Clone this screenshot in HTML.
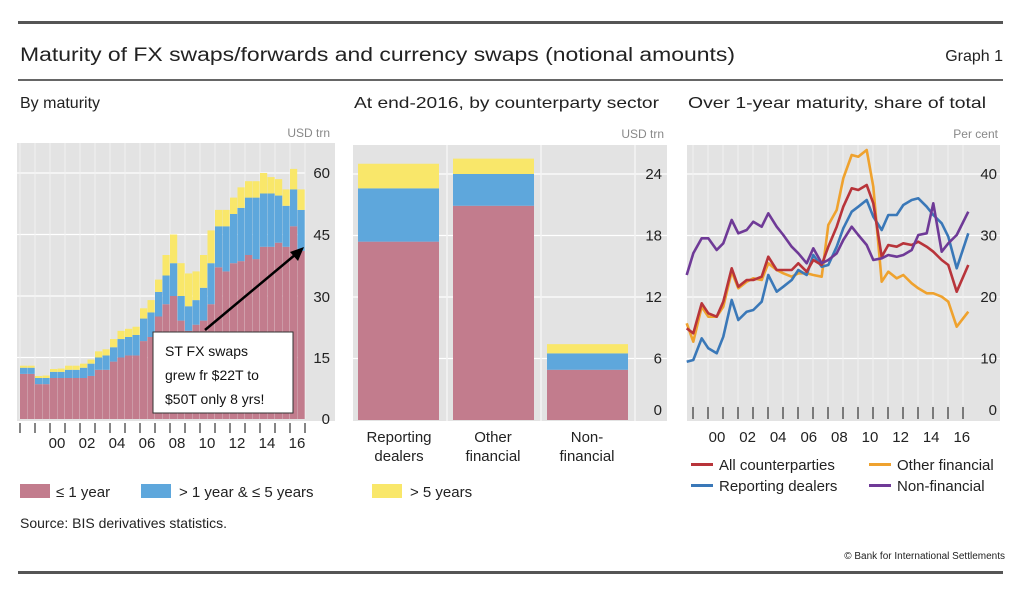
<!DOCTYPE html>
<html><head><meta charset="utf-8">
<style>
body{margin:0;background:#fff;width:1023px;height:602px;overflow:hidden;font-family:"Liberation Sans",sans-serif;}
svg text{font-family:"Liberation Sans",sans-serif;}
</style></head><body>
<svg id="s" width="1023" height="602" viewBox="0 0 1023 602" xmlns="http://www.w3.org/2000/svg">
<rect x="18" y="21" width="985" height="3" fill="#555"/>
<text x="20" y="61" font-size="19" fill="#222" textLength="715" lengthAdjust="spacingAndGlyphs">Maturity of FX swaps/forwards and currency swaps (notional amounts)</text>
<text x="1003" y="61" font-size="16" fill="#222" text-anchor="end">Graph 1</text>
<rect x="18" y="79" width="985" height="2" fill="#666"/>
<text x="20" y="108" font-size="16" fill="#222">By maturity</text>
<text x="354" y="108" font-size="16" fill="#222" textLength="305" lengthAdjust="spacingAndGlyphs">At end-2016, by counterparty sector</text>
<text x="688" y="108" font-size="16" fill="#222" textLength="298" lengthAdjust="spacingAndGlyphs">Over 1-year maturity, share of total</text>
<!-- panel backgrounds -->
<rect x="17" y="143" width="318" height="278" fill="#e3e3e3"/>
<rect x="353" y="145" width="314" height="276" fill="#e3e3e3"/>
<rect x="687" y="145" width="313" height="276" fill="#e3e3e3"/>
<text x="330" y="137" font-size="12" fill="#888" text-anchor="end">USD trn</text>
<text x="664" y="138" font-size="12" fill="#888" text-anchor="end">USD trn</text>
<text x="998" y="138" font-size="12" fill="#888" text-anchor="end">Per cent</text>
<g id="left"></g><g id="mid"></g><g id="right"></g>
<!-- annotation -->
<line x1="205" y1="330" x2="296" y2="254" stroke="#000" stroke-width="2.5"/>
<polygon points="304,247 290,252 298,261" fill="#000"/>
<rect x="153" y="332" width="140" height="81" fill="#fff" stroke="#333" stroke-width="1"/>
<text x="165" y="356" font-size="14" fill="#111">ST FX swaps</text>
<text x="165" y="380" font-size="14" fill="#111">grew fr $22T to</text>
<text x="165" y="404" font-size="14" fill="#111">$50T only 8 yrs!</text>
<!-- middle labels -->
<g font-size="15" fill="#222" text-anchor="middle">
<text x="399" y="442">Reporting</text><text x="399" y="461">dealers</text>
<text x="493" y="442">Other</text><text x="493" y="461">financial</text>
<text x="587" y="442">Non-</text><text x="587" y="461">financial</text>
</g>
<!-- left legend -->
<rect x="20" y="484" width="30" height="14" fill="#c27c8d"/>
<text x="56" y="497" font-size="15" fill="#222">≤ 1 year</text>
<rect x="141" y="484" width="30" height="14" fill="#5ea7dc"/>
<text x="179" y="497" font-size="15" fill="#222">&gt; 1 year &amp; ≤ 5 years</text>
<rect x="372" y="484" width="30" height="14" fill="#f9e76a"/>
<text x="410" y="497" font-size="15" fill="#222">&gt; 5 years</text>
<text x="20" y="528" font-size="14" fill="#222">Source: BIS derivatives statistics.</text>
<text x="1005" y="559" font-size="10" fill="#222" text-anchor="end">© Bank for International Settlements</text>
<rect x="18" y="571" width="985" height="3" fill="#555"/>
<!-- right legend -->
<g font-size="15" fill="#222">
<rect x="691" y="463" width="22" height="3" fill="#b8343a"/><text x="719" y="470">All counterparties</text>
<rect x="869" y="463" width="22" height="3" fill="#efa22e"/><text x="897" y="470">Other financial</text>
<rect x="691" y="484" width="22" height="3" fill="#3a78b8"/><text x="719" y="491">Reporting dealers</text>
<rect x="869" y="484" width="22" height="3" fill="#6f3a97"/><text x="897" y="491">Non-financial</text>
</g>
</svg>
<script>
var NS="http://www.w3.org/2000/svg";
function el(p,t,a,txt){var e=document.createElementNS(NS,t);for(var k in a)e.setAttribute(k,a[k]);if(txt!==undefined)e.textContent=txt;p.appendChild(e);return e;}
var R="#c27c8d",B="#5ea7dc",Y="#f9e76a";
// LEFT
var L=document.getElementById("left");
var y0=419,k=4.1;
[60,45,30,15].forEach(function(v){el(L,"line",{x1:17,x2:305,y1:y0-v*k,y2:y0-v*k,stroke:"#fff","stroke-width":1.2});});
for(var i=0;i<=19;i++){var x=20+i*15;el(L,"line",{x1:x,x2:x,y1:143,y2:419,stroke:"#f2f2f2","stroke-width":1});el(L,"line",{x1:x,x2:x,y1:423,y2:433,stroke:"#333","stroke-width":1.2});}
var d=[[11,1.5,.5],[11,1.5,.5],[8.5,1.5,.5],[8.5,1.5,.6],[10,1.5,.7],[10,1.5,.8],[10,2,1],[10,2,1],[10,2.5,1],[10.5,3,1],[12,3,1.5],[12,3.5,1.5],[14,3.5,2],[15,4.5,2],[15.5,4.5,2],[15.5,5,2],[19,5.5,2.5],[20,6,3],[25,6,3],[28,7,5],[30,8,7],[24,6,8],[21.5,6,8],[23,6,7],[24,8,8],[28,10,8],[37,10,4],[36,11,4],[38,12,4],[38.5,13,5],[40,14,4],[39,15,4],[42,13,5],[42,13,4],[43,11.5,4],[42,10,4],[47,9,5],[41,10,5]];
d.forEach(function(b,i){var x=20+i*7.5,c=y0;[[b[0],R],[b[1],B],[b[2],Y]].forEach(function(s){var h=s[0]*k;el(L,"rect",{x:x,y:c-h,width:7.2,height:h,fill:s[1]});c-=h;});});
[["60",173],["45",235],["30",297],["15",358],["0",419]].forEach(function(t){el(L,"text",{x:330,y:t[1]+5,"font-size":15,fill:"#222","text-anchor":"end"},t[0]);});
["00","02","04","06","08","10","12","14","16"].forEach(function(t,i){el(L,"text",{x:57+i*30,y:448,"font-size":15,fill:"#222","text-anchor":"middle"},t);});
// MID
var M=document.getElementById("mid");
[24,18,12,6].forEach(function(v){var y=420-v*10.25;el(M,"line",{x1:353,x2:667,y1:y,y2:y,stroke:"#fff","stroke-width":1.2});el(M,"text",{x:662,y:y+5,"font-size":15,fill:"#222","text-anchor":"end"},""+v);});
el(M,"text",{x:662,y:415,"font-size":15,fill:"#222","text-anchor":"end"},"0");
[447,541,635].forEach(function(x){el(M,"line",{x1:x,x2:x,y1:145,y2:421,stroke:"#f4f4f4","stroke-width":1.5});});
[[358,17.4,22.6,25],[453,20.9,24,25.5],[547,4.9,6.5,7.4]].forEach(function(b){var p=0;[[b[1],R],[b[2],B],[b[3],Y]].forEach(function(s){el(M,"rect",{x:b[0],y:420-s[0]*10.25,width:81,height:(s[0]-p)*10.25,fill:s[1]});p=s[0];});});
// RIGHT
var G=document.getElementById("right");
[40,30,20,10].forEach(function(v){var y=420-v*6.15;el(G,"line",{x1:687,x2:1000,y1:y,y2:y,stroke:"#fff","stroke-width":1.2});el(G,"text",{x:997,y:y+5,"font-size":15,fill:"#222","text-anchor":"end"},""+v);});
el(G,"text",{x:997,y:415,"font-size":15,fill:"#222","text-anchor":"end"},"0");
for(var i=0;i<19;i++){var x=693+i*15;el(G,"line",{x1:x,x2:x,y1:145,y2:405,stroke:"#f0f0f0","stroke-width":1});el(G,"line",{x1:x,x2:x,y1:407,y2:419,stroke:"#333","stroke-width":1.2});}
["00","02","04","06","08","10","12","14","16"].forEach(function(t,i){el(G,"text",{x:717+i*30.6,y:442,"font-size":15,fill:"#222","text-anchor":"middle"},t);});
var xs=[20,40,65,85,110,130,155,175,200,220,245,265,290,310,335,355,380,400,425,445,470,490,515,535,560,580,605,625,650,670,695,715,740,760,785,805,830,865];
var S={
"#efa22e":[610,665,560,590,590,560,455,505,485,475,480,430,450,460,470,460,460,465,470,315,270,175,105,110,90,200,485,455,475,465,490,505,520,520,530,545,620,575],
"#3a78b8":[725,720,655,685,700,650,540,600,575,570,545,465,515,500,480,450,465,405,440,435,380,325,275,260,240,290,330,285,285,255,240,235,260,285,310,350,445,340],
"#b8343a":[625,640,550,580,590,545,445,500,480,480,470,410,450,450,450,430,455,420,435,380,320,260,205,210,195,250,410,375,380,370,375,365,380,395,420,435,515,435],
"#6f3a97":[465,400,355,355,390,370,300,340,330,305,320,280,320,345,380,400,430,385,430,420,400,360,320,345,375,420,415,405,410,405,390,345,340,250,395,370,345,275]};
var order=["#efa22e","#3a78b8","#b8343a","#6f3a97"];
order.forEach(function(c){var pts=S[c].map(function(z,i){return (680+xs[i]/3).toFixed(1)+","+(120+z/3).toFixed(1);}).join(" ");el(G,"polyline",{points:pts,fill:"none",stroke:c,"stroke-width":2.6,"stroke-linejoin":"round"});});
</script>
</body></html>
